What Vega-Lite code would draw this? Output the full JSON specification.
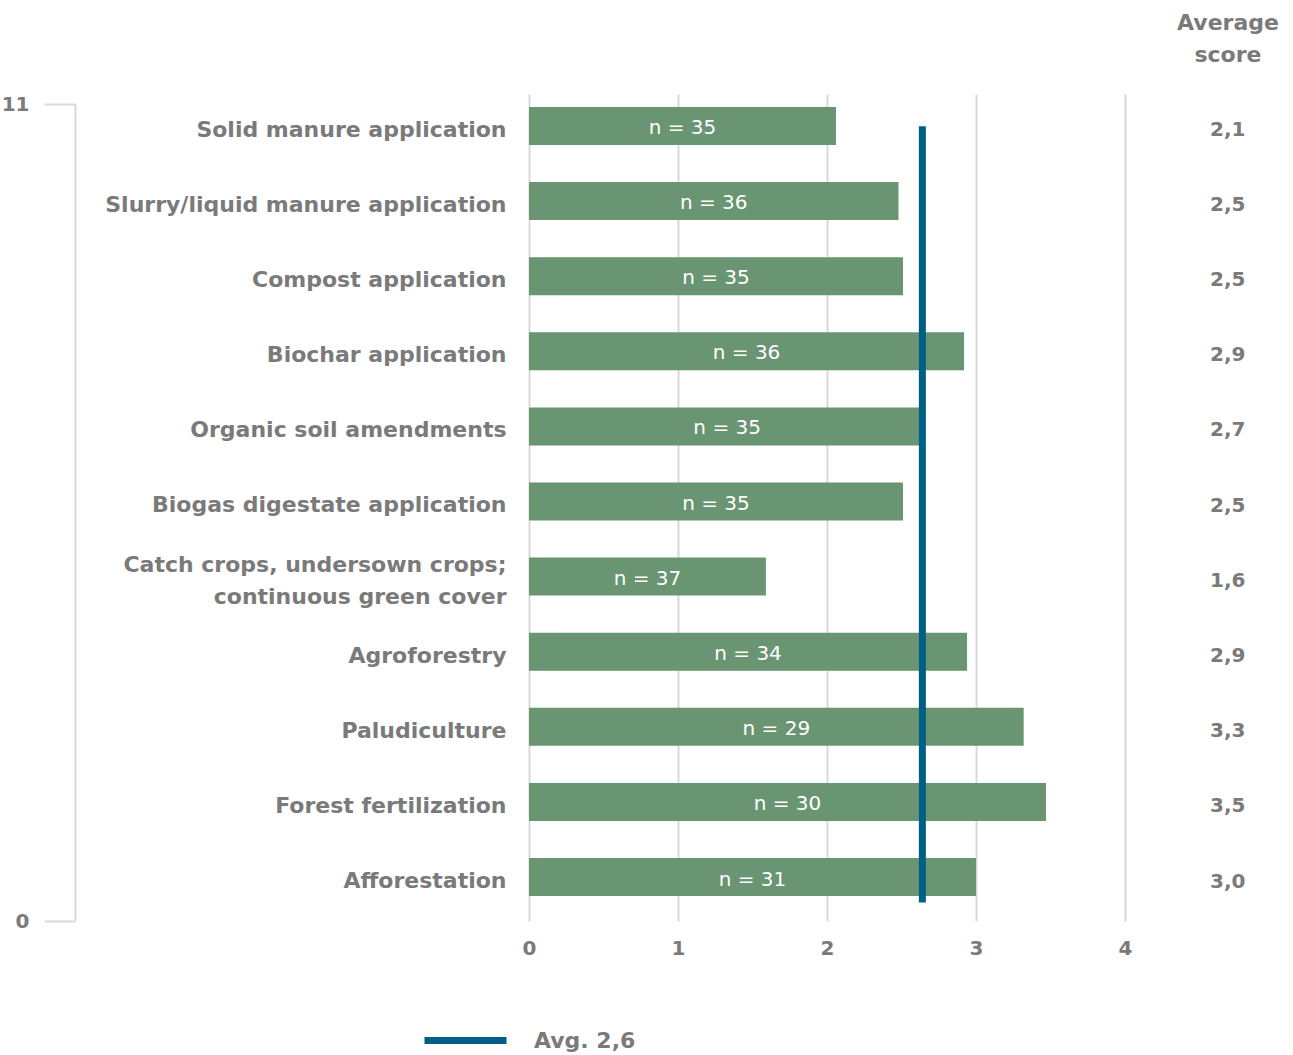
{
  "$schema": "https://vega.github.io/schema/vega-lite/v6.json",
  "autosize": {"type": "none"},
  "padding": {"left": 529, "top": 94, "right": 19, "bottom": 134},
  "width": 745,
  "height": 827,
  "config": {
    "font": "DejaVu Sans",
    "view": {"stroke": null},
    "axis": {"labelFont": "DejaVu Sans", "labelFontWeight": "bold", "labelColor": "#7a7a7a", "labelFontSize": 20},
    "legend": {"labelFont": "DejaVu Sans"}
  },
  "title": {"text": ["Average", "score"], "anchor": "end", "align": "center", "dx": -46, "offset": 27, "fontSize": 22, "fontWeight": "bold", "color": "#7a7a7a", "lineHeight": 32, "font": "DejaVu Sans"},
  "datasets": {
    "bars": [
      {"category": "Solid manure application", "score": 2.06, "label": "2,1", "n": "n = 35"},
      {"category": "Slurry/liquid manure application", "score": 2.48, "label": "2,5", "n": "n = 36"},
      {"category": "Compost application", "score": 2.51, "label": "2,5", "n": "n = 35"},
      {"category": "Biochar application", "score": 2.92, "label": "2,9", "n": "n = 36"},
      {"category": "Organic soil amendments", "score": 2.66, "label": "2,7", "n": "n = 35"},
      {"category": "Biogas digestate application", "score": 2.51, "label": "2,5", "n": "n = 35"},
      {"category": "Catch crops, undersown crops; continuous green cover", "score": 1.59, "label": "1,6", "n": "n = 37"},
      {"category": "Agroforestry", "score": 2.94, "label": "2,9", "n": "n = 34"},
      {"category": "Paludiculture", "score": 3.32, "label": "3,3", "n": "n = 29"},
      {"category": "Forest fertilization", "score": 3.47, "label": "3,5", "n": "n = 30"},
      {"category": "Afforestation", "score": 3.0, "label": "3,0", "n": "n = 31"}
    ],
    "avg": [
      {"avg": 2.64, "y0": 0.25, "y1": 10.7, "series": "Avg. 2,6"}
    ]
  },
  "data": {"name": "bars"},
  "layer": [
    {
      "mark": {"type": "bar", "color": "#6a9572"},
      "encoding": {
        "y": {
          "field": "category", "type": "nominal", "sort": null,
          "scale": {"paddingInner": 0.494, "paddingOuter": 0.253, "align": 0.342},
          "axis": {
            "title": null, "domain": false, "ticks": false, "grid": false,
            "labelFontSize": 22,
            "labelPadding": 23, "labelLimit": 600, "labelLineHeight": 32,
            "labelOffset": {"condition": {"test": "datum.value == 'Catch crops, undersown crops; continuous green cover'", "value": -12}, "value": 4},
            "labelExpr": "datum.label == 'Catch crops, undersown crops; continuous green cover' ? ['Catch crops, undersown crops;', 'continuous green cover'] : datum.label"
          }
        },
        "x": {
          "field": "score", "type": "quantitative",
          "scale": {"domain": [0, 5], "nice": false, "zero": true},
          "axis": {"values": [0, 1, 2, 3, 4], "grid": true, "gridColor": "#d9d9d9", "gridWidth": 2, "domain": false, "ticks": false, "title": null, "labelPadding": 17, "labelFlush": false, "format": "d"}
        }
      }
    },
    {
      "mark": {"type": "text", "color": "white", "fontSize": 20, "fontWeight": "normal", "align": "center", "baseline": "middle", "dy": 8},
      "encoding": {
        "y": {
          "field": "category", "type": "nominal", "sort": null,
          "scale": {"paddingInner": 0.494, "paddingOuter": 0.253, "align": 0.342},
          "axis": null
        },
        "x": {"field": "score", "type": "quantitative", "scale": {"domain": [0, 10], "nice": false, "zero": true}, "axis": null},
        "text": {"field": "n"}
      }
    },
    {
      "mark": {"type": "text", "color": "#7a7a7a", "fontSize": 20, "fontWeight": "bold", "align": "center", "baseline": "middle", "dy": 10},
      "encoding": {
        "y": {
          "field": "category", "type": "nominal", "sort": null,
          "scale": {"paddingInner": 0.494, "paddingOuter": 0.253, "align": 0.342},
          "axis": null
        },
        "x": {"datum": 4.69, "type": "quantitative", "scale": {"domain": [0, 5], "nice": false, "zero": true}, "axis": null},
        "text": {"field": "label"}
      }
    },
    {
      "data": {"name": "avg"},
      "mark": {"type": "rule", "strokeWidth": 7},
      "encoding": {
        "x": {"field": "avg", "type": "quantitative", "scale": {"domain": [0, 5], "nice": false, "zero": true}, "axis": null},
        "y": {
          "field": "y0", "type": "quantitative",
          "scale": {"domain": [0, 11], "range": [827, 10], "nice": false},
          "axis": {"orient": "left", "offset": 454, "values": [0, 11], "title": null, "grid": false, "domainColor": "#d9d9d9", "domainWidth": 2, "tickColor": "#d9d9d9", "tickWidth": 2, "tickSize": 31, "labelPadding": 15}
        },
        "y2": {"field": "y1"},
        "color": {
          "field": "series", "type": "nominal",
          "scale": {"range": ["#005f85"]},
          "legend": {"title": null, "orient": "none", "legendX": -108, "legendY": 902, "symbolType": "stroke", "symbolSize": 6724, "symbolStrokeWidth": 7, "labelFontSize": 22, "labelColor": "#7a7a7a", "labelFontWeight": "bold", "labelOffset": 24}
        }
      }
    }
  ],
  "resolve": {"scale": {"x": "independent", "y": "independent"}, "axis": {"x": "independent", "y": "independent"}}
}
